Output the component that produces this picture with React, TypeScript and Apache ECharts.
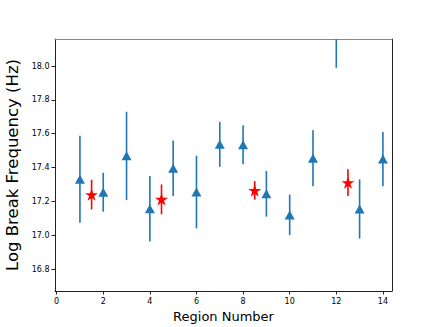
import React, { useEffect, useRef } from "react";
import * as echarts from "echarts";

// Blue triangles: region number, value, symmetric error
const regionX = [1, 2, 3, 4, 5, 6, 7, 8, 9, 10, 11, 12, 13, 14];
const regionVal = [17.331, 17.254, 17.469, 17.156, 17.396, 17.255, 17.537, 17.535, 17.245, 17.12, 17.455, 18.22, 17.155, 17.45];
const regionErr = [0.257, 0.115, 0.261, 0.194, 0.164, 0.215, 0.133, 0.115, 0.135, 0.12, 0.165, 0.23, 0.175, 0.16];

// Red stars
const starX = [1.5, 4.5, 8.5, 12.5];
const starVal = [17.24, 17.212, 17.265, 17.311];
const starErr = [0.088, 0.088, 0.055, 0.079];

const xTicks = [0, 2, 4, 6, 8, 10, 12, 14];
const yTicks = [16.8, 17.0, 17.2, 17.4, 17.6, 17.8, 18.0];

const BLUE = "#1f77b4";
const RED = "#ff0000";
const FONT = "DejaVu Sans";
const STAR =
  "path://M50,0 L61.23,34.55 L97.55,34.55 L68.16,55.9 L79.39,90.45 L50,69.1 L20.61,90.45 L31.84,55.9 L2.45,34.55 L38.77,34.55 Z";

const errRender = (color: string) => (params: any, api: any) => {
  const x = api.value(0);
  const p1 = api.coord([x, api.value(1)]);
  const p2 = api.coord([x, api.value(2)]);
  return {
    type: "line",
    shape: { x1: p1[0], y1: p1[1], x2: p2[0], y2: p2[1] },
    style: { stroke: color, lineWidth: 1.6 },
  };
};

export default function App() {
  const ref = useRef<HTMLDivElement>(null);
  useEffect(() => {
    if (!ref.current) return;
    const chart = echarts.init(ref.current, null, { renderer: "svg" });
    const xMin = -0.07, xMax = 14.39, yMin = 16.67, yMax = 18.16;
    chart.setOption({
      animation: false,
      backgroundColor: "#fff",
      grid: { left: 55, right: 44, top: 39, bottom: 36, containLabel: false, outerBoundsMode: "none" },
      xAxis: [
        {
          type: "value",
          min: xMin,
          max: xMax,
          splitLine: { show: false },
          axisLine: { onZero: false, lineStyle: { color: "#222", width: 1 } },
          axisTick: { customValues: xTicks, length: 3.5, lineStyle: { color: "#222" } },
          axisLabel: { customValues: xTicks, fontSize: 8, color: "#000", fontFamily: FONT, margin: 6 },
          name: "Region Number",
          nameLocation: "middle",
          nameGap: 16,
          nameTextStyle: { fontSize: 13, color: "#000", fontFamily: FONT, verticalAlign: "top" },
        },
        {
          type: "value",
          position: "top",
          min: xMin,
          max: xMax,
          splitLine: { show: false },
          axisLine: { onZero: false, lineStyle: { color: "#888", width: 1 } },
          axisTick: { show: false },
          axisLabel: { show: false },
        },
      ],
      yAxis: [
        {
          type: "value",
          position: "left",
          min: yMin,
          max: yMax,
          splitLine: { show: false },
          axisLine: { show: true, onZero: false, lineStyle: { color: "#222", width: 1 } },
          axisTick: { show: true, customValues: yTicks, length: 3.5, lineStyle: { color: "#222" } },
          axisLabel: {
            customValues: yTicks,
            fontSize: 8,
            color: "#000",
            fontFamily: FONT,
            margin: 5.5,
            formatter: (v: number) => v.toFixed(1),
          },
          name: "Log Break Frequency (Hz)",
          nameLocation: "middle",
          nameGap: 28,
          nameTextStyle: { fontSize: 16.5, color: "#000", fontFamily: FONT },
        },
        {
          type: "value",
          position: "right",
          min: yMin,
          max: yMax,
          splitLine: { show: false },
          axisLine: { show: true, onZero: false, lineStyle: { color: "#222", width: 1 } },
          axisTick: { show: false },
          axisLabel: { show: false },
        },
      ],
      series: [
        {
          type: "custom",
          clip: true,
          z: 1,
          renderItem: errRender(BLUE),
          encode: { x: 0, y: [1, 2] },
          data: regionX.map((x, i) => [x, regionVal[i] - regionErr[i], regionVal[i] + regionErr[i]]),
        },
        {
          type: "scatter",
          clip: true,
          z: 2,
          symbol: "triangle",
          symbolSize: [10, 9],
          itemStyle: { color: BLUE, opacity: 1 },
          data: regionX.map((x, i) => [x, regionVal[i]]),
        },
        {
          type: "custom",
          clip: true,
          z: 3,
          renderItem: errRender(RED),
          encode: { x: 0, y: [1, 2] },
          data: starX.map((x, i) => [x, starVal[i] - starErr[i], starVal[i] + starErr[i]]),
        },
        {
          type: "scatter",
          clip: true,
          z: 4,
          symbol: STAR,
          symbolKeepAspect: true,
          symbolSize: 13,
          itemStyle: { color: RED, opacity: 1 },
          data: starX.map((x, i) => [x, starVal[i]]),
        },
      ],
    });
    return () => chart.dispose();
  }, []);
  return (
    <div
      ref={ref}
      style={{ position: "absolute", left: 0, top: 0, width: 436, height: 327, background: "#fff" }}
    />
  );
}
